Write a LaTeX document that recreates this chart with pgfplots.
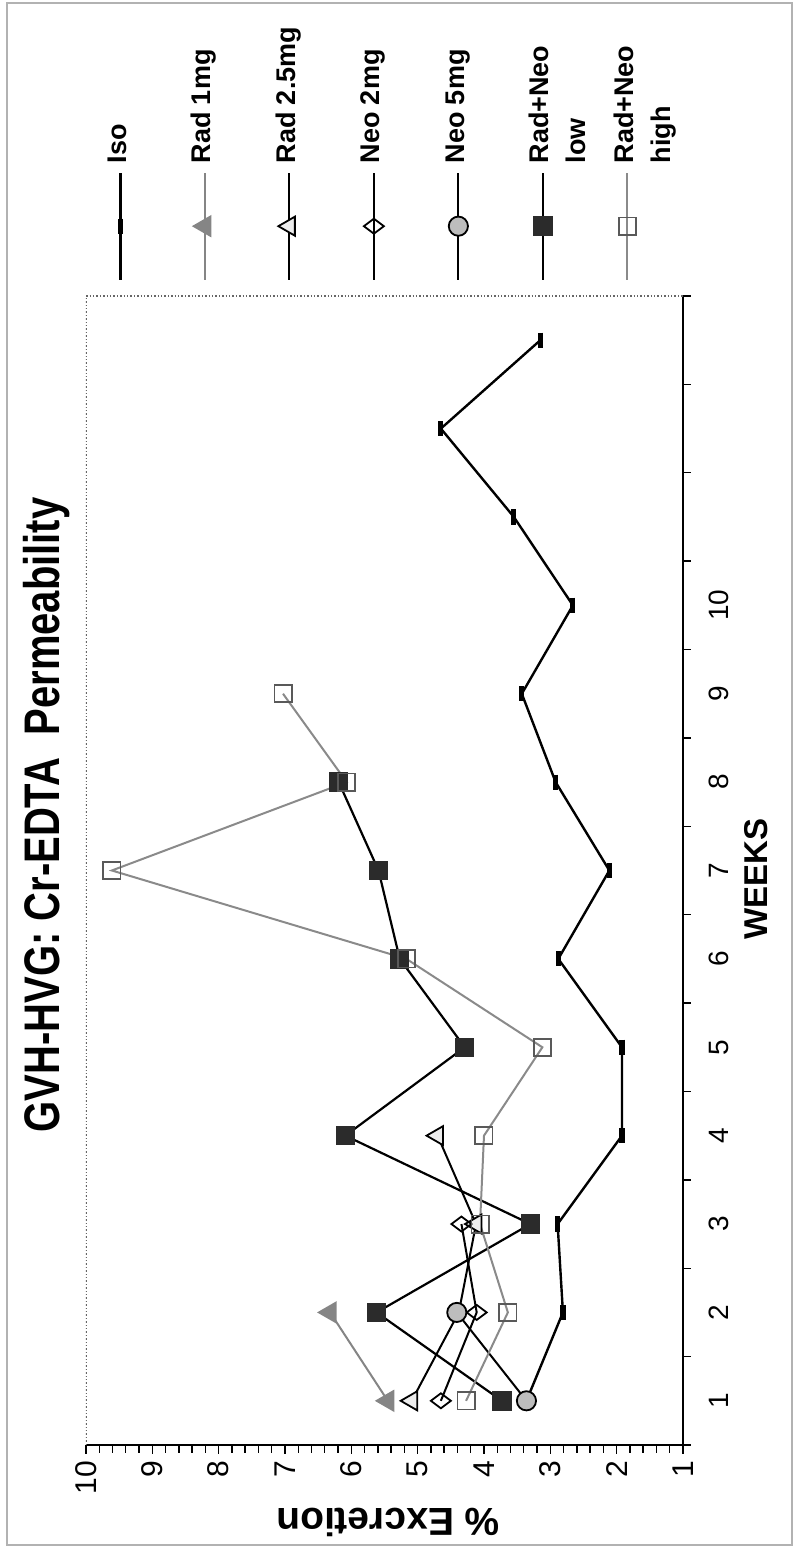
\documentclass[border=0pt]{standalone}
\usepackage{graphicx}
\usepackage{fontspec}
\setmainfont{Liberation Sans}
\usepackage{pgfplots}
\pgfplotsset{compat=1.18}

\definecolor{radgray}{HTML}{858585}
\definecolor{higray}{HTML}{8A8A8A}
\definecolor{neofill}{HTML}{BDBDBD}
\definecolor{lowfill}{HTML}{2B2B2B}

\begin{document}
\rotatebox{90}{%
\begin{tikzpicture}
\useasboundingbox (0,0) rectangle (777pt,398pt);
% outer frame
\draw[gray!60, line width=0.8pt] (4.5pt,2pt) rectangle (775.5pt,394.5pt);
% title
\node[font=\bfseries\fontsize{25}{25}\selectfont] at (369.5pt,374.5pt)
  {\scalebox{0.8}[1]{GVH-HVG: Cr-EDTA\ \ Permeability}};
\begin{axis}[
  at={(54.5pt,56.5pt)}, anchor=south west,
  scale only axis, width=574.5pt, height=298.5pt,
  xmin=0.5, xmax=13.5, ymin=1, ymax=10,
  axis lines*=left,
  axis line style={line width=0.8pt},
  tick align=outside,
  tick style={black, line width=0.7pt},
  major tick length=4.5pt, minor tick length=4pt,
  xtick={1,...,10},
  minor xtick={0.5,1.5,...,13.5},
  every major x tick/.append style={draw=none},
  ytick={1,...,10},
  minor y tick num=4,
  /pgf/number format/assume math mode=true,
  xticklabel style={font=\fontsize{14}{14}\selectfont, yshift=-5pt},
  yticklabel style={font=\fontsize{15}{15}\selectfont},
  xlabel={\textbf{WEEKS}},
  xlabel style={font=\fontsize{16.5}{16.5}\selectfont, at={(axis description cs:0.4926,-0.1223)}, anchor=center},
  ylabel={\textbf{\% Excretion}},
  ylabel style={font=\fontsize{19.5}{19.5}\selectfont, at={(axis description cs:-0.067,0.494)}, anchor=center},
  legend style={at={(1.0128,0.9699)}, anchor=north west, draw=none, fill=none,
    inner sep=0pt, row sep=26.25pt, column sep=4pt,
    font=\bfseries\fontsize{13.5}{13.5}\selectfont,
    nodes={inner sep=0pt, text height=11pt, text depth=5pt}},
  legend cell align=left,
  legend image code/.code={\draw[mark repeat=2,mark phase=2,#1]
    plot coordinates {(0pt,0pt) (26.75pt,0pt) (53.5pt,0pt)};},
]
% plot area border on the open sides
\draw[gray!80!black, densely dotted, line width=0.7pt]
  (rel axis cs:0,1) -- (rel axis cs:1,1) -- (rel axis cs:1,0);

% Iso
\addplot[black, line width=1.2pt, mark=-, mark size=3.8pt,
  mark options={line width=2.6pt}] coordinates {
  (1,3.36) (2,2.81) (3,2.89) (4,1.92) (5,1.92) (6,2.88) (7,2.11)
  (8,2.92) (9,3.43) (10,2.66) (11,3.55) (12,4.65) (13,3.15)};
\addlegendentry{Iso}

% Rad 1mg
\addplot[radgray, line width=1pt, mark=triangle*, mark size=5.5pt,
  mark options={fill=radgray, draw=radgray}] coordinates {
  (1,5.45) (2,6.32)};
\addlegendentry{Rad 1mg}

% Rad 2.5mg (week 2 mark sits under the Neo 5mg circle)
\addplot[black, line width=1pt, mark=triangle*, mark size=5.5pt,
  mark indices={1,3,4},
  legend image post style={mark indices={2}},
  mark options={fill=gray!15, draw=black, line width=0.9pt}] coordinates {
  (1,5.09) (2,4.38) (3,4.12) (4,4.70)};
\addlegendentry{Rad 2.5mg}

% Neo 2mg
\addplot[black, line width=1pt, mark=diamond, mark size=5pt,
  mark options={draw=black, line width=0.9pt}] coordinates {
  (1,4.65) (2,4.11) (3,4.34)};
\addlegendentry{Neo 2mg}

% Neo 5mg
\addplot[black, line width=1pt, mark=*, mark size=4.8pt,
  mark options={fill=neofill, draw=black, line width=0.9pt}] coordinates {
  (1,3.36) (2,4.41)};
\addlegendentry{Neo 5mg}

% Rad+Neo low
\addplot[black, line width=1.1pt, mark=square*, mark size=4.3pt,
  mark options={fill=lowfill, draw=lowfill}] coordinates {
  (1,3.73) (2,5.62) (3,3.30) (4,6.09) (5,4.29) (6,5.27) (7,5.59) (8,6.19)};
\addlegendentry{\makebox[0pt][l]{\raisebox{-18.5pt}[0pt][0pt]{low}}Rad+Neo}

% Rad+Neo high
\addplot[higray, line width=1pt, mark=square, mark size=4.3pt,
  mark options={draw=gray!70!black, line width=0.9pt}] coordinates {
  (1,4.27) (2,3.64) (3,4.06) (4,4.00) (5,3.12) (6,5.17) (7,9.61) (8,6.07) (9,7.03)};
\addlegendentry{\makebox[0pt][l]{\raisebox{-18.5pt}[0pt][0pt]{high}}Rad+Neo}
\end{axis}
\end{tikzpicture}%
}
\end{document}
